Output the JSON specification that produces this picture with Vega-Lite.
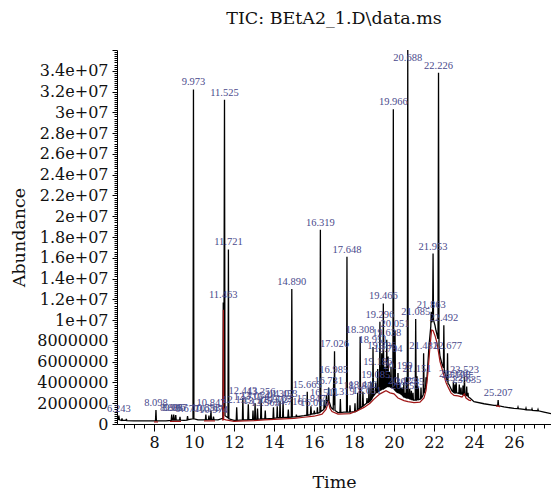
{
"$schema": "https://vega.github.io/schema/vega-lite/v6.json",
"width": 434, "height": 374,
"autosize": {"type": "none"},
"padding": {"left": 117, "top": 50, "right": 0, "bottom": 72},
"background": "white",
"title": {"text": "TIC: BEtA2_1.D\\data.ms", "font": "DejaVu Serif", "fontSize": 17.5, "fontWeight": "normal", "color": "#111", "offset": 15, "anchor": "middle"},
"config": {"view": {"stroke": null}, "font": "DejaVu Serif"},
"datasets": {
"tic": [
{"t":6.15,"v":500000},{"t":6.22,"v":450000},{"t":6.243,"v":800000},{"t":6.27,"v":400000},{"t":6.38,"v":350000},{"t":6.4,"v":550000},{"t":6.42,"v":350000},{"t":6.6,"v":350000},{"t":6.62,"v":500000},{"t":6.64,"v":330000},{"t":7.0,"v":300000},{"t":7.5,"v":300000},{"t":8.0,"v":300000},{"t":8.075,"v":300000},{"t":8.098,"v":1350000},{"t":8.12,"v":300000},{"t":8.5,"v":300000},{"t":8.6,"v":300000},
{"t":8.86,"v":350000},{"t":8.885,"v":900000},{"t":8.91,"v":380000},{"t":8.96,"v":380000},{"t":8.986,"v":900000},{"t":9.01,"v":380000},{"t":9.06,"v":380000},{"t":9.087,"v":850000},{"t":9.11,"v":380000},{"t":9.28,"v":380000},{"t":9.3,"v":700000},{"t":9.32,"v":380000},{"t":9.5,"v":350000},{"t":9.65,"v":380000},{"t":9.677,"v":750000},{"t":9.7,"v":420000},
{"t":9.95,"v":500000},{"t":9.973,"v":32200000},{"t":9.995,"v":500000},{"t":10.2,"v":400000},{"t":10.57,"v":400000},{"t":10.593,"v":900000},{"t":10.615,"v":400000},{"t":10.725,"v":420000},{"t":10.747,"v":800000},{"t":10.77,"v":420000},{"t":10.825,"v":420000},{"t":10.847,"v":1300000},{"t":10.87,"v":420000},{"t":10.95,"v":420000},{"t":10.974,"v":700000},{"t":11.0,"v":420000},{"t":11.2,"v":400000},
{"t":11.44,"v":550000},{"t":11.463,"v":11700000},{"t":11.49,"v":1500000},{"t":11.525,"v":31200000},{"t":11.55,"v":800000},{"t":11.7,"v":600000},{"t":11.721,"v":16800000},{"t":11.745,"v":500000},{"t":12.0,"v":350000},
{"t":12.11,"v":350000},{"t":12.135,"v":1600000},{"t":12.16,"v":350000},{"t":12.42,"v":400000},{"t":12.443,"v":2500000},{"t":12.465,"v":400000},{"t":12.69,"v":400000},{"t":12.715,"v":1900000},{"t":12.74,"v":420000},{"t":12.93,"v":420000},{"t":12.95,"v":1300000},{"t":12.97,"v":430000},{"t":13.03,"v":430000},{"t":13.054,"v":2000000},{"t":13.08,"v":450000},{"t":13.15,"v":450000},{"t":13.175,"v":1500000},{"t":13.2,"v":450000},{"t":13.33,"v":480000},{"t":13.356,"v":2400000},{"t":13.38,"v":480000},{"t":13.54,"v":500000},{"t":13.563,"v":1300000},{"t":13.585,"v":500000},{"t":13.95,"v":550000},{"t":13.972,"v":1600000},{"t":13.995,"v":550000},{"t":14.14,"v":580000},{"t":14.162,"v":1700000},{"t":14.185,"v":600000},{"t":14.28,"v":600000},{"t":14.302,"v":2200000},{"t":14.325,"v":600000},{"t":14.43,"v":620000},{"t":14.453,"v":2200000},{"t":14.475,"v":620000},{"t":14.69,"v":650000},{"t":14.716,"v":1400000},{"t":14.74,"v":650000},{"t":14.865,"v":660000},{"t":14.89,"v":13000000},{"t":14.915,"v":660000},{"t":15.1,"v":700000},{"t":15.12,"v":900000},{"t":15.14,"v":700000},{"t":15.5,"v":800000},
{"t":15.64,"v":850000},{"t":15.663,"v":3100000},{"t":15.685,"v":850000},{"t":15.82,"v":900000},{"t":15.847,"v":1700000},{"t":15.87,"v":950000},{"t":15.99,"v":1000000},{"t":16.016,"v":1300000},{"t":16.04,"v":1000000},{"t":16.15,"v":1050000},{"t":16.17,"v":1600000},{"t":16.19,"v":1050000},{"t":16.295,"v":1100000},{"t":16.319,"v":18700000},{"t":16.345,"v":1200000},{"t":16.49,"v":1400000},{"t":16.511,"v":2300000},{"t":16.535,"v":1500000},{"t":16.6,"v":1800000},{"t":16.62,"v":2800000},{"t":16.64,"v":2000000},{"t":16.71,"v":2300000},{"t":16.731,"v":3500000},{"t":16.755,"v":2200000},{"t":16.85,"v":1600000},{"t":16.96,"v":1400000},{"t":16.985,"v":4500000},{"t":17.005,"v":1800000},{"t":17.026,"v":7000000},{"t":17.05,"v":1300000},{"t":17.2,"v":1100000},{"t":17.295,"v":1100000},{"t":17.319,"v":2400000},{"t":17.34,"v":1100000},{"t":17.5,"v":1150000},{"t":17.625,"v":1150000},{"t":17.648,"v":16100000},{"t":17.67,"v":1150000},{"t":17.78,"v":1150000},{"t":17.8,"v":1800000},{"t":17.82,"v":1150000},{"t":18.03,"v":1200000},{"t":18.05,"v":2000000},{"t":18.07,"v":1200000},{"t":18.16,"v":1300000},{"t":18.185,"v":3000000},{"t":18.205,"v":1400000},{"t":18.285,"v":1500000},{"t":18.308,"v":8400000},{"t":18.33,"v":1550000},{"t":18.42,"v":1700000},{"t":18.446,"v":3100000},{"t":18.47,"v":1750000},{"t":18.63,"v":2000000},{"t":18.651,"v":2500000},{"t":18.675,"v":2050000},{"t":18.73,"v":2100000},{"t":18.75,"v":3500000},{"t":18.77,"v":2150000},{"t":18.83,"v":2250000},{"t":18.85,"v":4000000},{"t":18.87,"v":2300000},{"t":18.93,"v":2600000},{"t":18.951,"v":7400000},{"t":18.975,"v":2700000},{"t":19.06,"v":2900000},{"t":19.085,"v":4000000},{"t":19.11,"v":3000000},{"t":19.165,"v":3050000},{"t":19.186,"v":5300000},{"t":19.21,"v":3100000},{"t":19.275,"v":3200000},{"t":19.296,"v":9850000},{"t":19.32,"v":3250000},{"t":19.365,"v":3300000},{"t":19.386,"v":6800000},{"t":19.41,"v":3350000},{"t":19.445,"v":3400000},{"t":19.466,"v":11600000},{"t":19.49,"v":3400000},{"t":19.525,"v":3450000},{"t":19.55,"v":5500000},{"t":19.575,"v":3500000},{"t":19.615,"v":3550000},{"t":19.638,"v":8100000},{"t":19.66,"v":3600000},{"t":19.68,"v":3600000},{"t":19.704,"v":6500000},{"t":19.725,"v":3600000},{"t":19.75,"v":3600000},{"t":19.77,"v":5000000},{"t":19.79,"v":3600000},{"t":19.83,"v":3550000},{"t":19.85,"v":5500000},{"t":19.87,"v":3550000},{"t":19.945,"v":3500000},{"t":19.966,"v":30300000},{"t":19.99,"v":3400000},{"t":20.03,"v":3300000},{"t":20.051,"v":9000000},{"t":20.075,"v":3200000},{"t":20.1,"v":3150000},{"t":20.12,"v":4000000},{"t":20.14,"v":3100000},{"t":20.175,"v":3050000},{"t":20.199,"v":4900000},{"t":20.22,"v":3000000},{"t":20.25,"v":3000000},{"t":20.27,"v":4000000},{"t":20.29,"v":2950000},{"t":20.33,"v":2900000},{"t":20.35,"v":3500000},{"t":20.37,"v":2850000},{"t":20.4,"v":2800000},{"t":20.423,"v":3500000},{"t":20.445,"v":2700000},{"t":20.47,"v":2650000},{"t":20.49,"v":4000000},{"t":20.51,"v":2600000},{"t":20.535,"v":2600000},{"t":20.555,"v":3000000},{"t":20.575,"v":2550000},{"t":20.6,"v":2550000},{"t":20.62,"v":4500000},{"t":20.64,"v":2500000},{"t":20.665,"v":2500000},{"t":20.688,"v":36000000},{"t":20.71,"v":2500000},{"t":20.76,"v":2450000},{"t":20.785,"v":3400000},{"t":20.81,"v":2400000},{"t":20.85,"v":2400000},{"t":20.87,"v":3200000},{"t":20.89,"v":2350000},{"t":20.93,"v":2350000},{"t":20.95,"v":3000000},{"t":20.97,"v":2300000},{"t":21.06,"v":2300000},{"t":21.085,"v":10100000},{"t":21.11,"v":2300000},{"t":21.13,"v":2300000},{"t":21.151,"v":4600000},{"t":21.175,"v":2350000},{"t":21.2,"v":2350000},{"t":21.22,"v":3500000},{"t":21.24,"v":2350000},{"t":21.33,"v":2400000},{"t":21.35,"v":3500000},{"t":21.37,"v":2450000},{"t":21.46,"v":2800000},{"t":21.481,"v":6800000},{"t":21.505,"v":2950000},{"t":21.58,"v":3500000},{"t":21.6,"v":4500000},{"t":21.62,"v":3800000},{"t":21.65,"v":4500000},{"t":21.75,"v":7500000},{"t":21.84,"v":9400000},{"t":21.863,"v":10800000},{"t":21.885,"v":9800000},{"t":21.93,"v":10000000},{"t":21.953,"v":16400000},{"t":21.975,"v":10000000},{"t":22.05,"v":9500000},{"t":22.1,"v":9000000},{"t":22.2,"v":8200000},{"t":22.226,"v":33800000},{"t":22.25,"v":7500000},{"t":22.3,"v":6500000},{"t":22.4,"v":5800000},{"t":22.47,"v":5400000},{"t":22.492,"v":9500000},{"t":22.515,"v":5100000},{"t":22.6,"v":4500000},{"t":22.655,"v":4100000},{"t":22.677,"v":6800000},{"t":22.7,"v":3900000},{"t":22.75,"v":3800000},{"t":22.9,"v":3200000},{"t":22.95,"v":3100000},{"t":22.97,"v":4100000},{"t":22.99,"v":3050000},{"t":23.03,"v":3000000},{"t":23.05,"v":3800000},{"t":23.07,"v":3000000},{"t":23.085,"v":3000000},{"t":23.108,"v":4000000},{"t":23.13,"v":3000000},{"t":23.245,"v":2950000},{"t":23.265,"v":3800000},{"t":23.285,"v":2950000},{"t":23.33,"v":2900000},{"t":23.35,"v":3500000},{"t":23.37,"v":2900000},{"t":23.43,"v":2850000},{"t":23.45,"v":3700000},{"t":23.47,"v":2850000},{"t":23.5,"v":2800000},{"t":23.523,"v":4550000},{"t":23.545,"v":2800000},{"t":23.61,"v":2750000},{"t":23.635,"v":3600000},{"t":23.655,"v":2700000},{"t":23.68,"v":2700000},{"t":23.7,"v":3000000},{"t":23.72,"v":2600000},{"t":23.8,"v":2500000},{"t":24.0,"v":2150000},{"t":24.5,"v":1950000},{"t":25.0,"v":1800000},{"t":25.185,"v":1780000},{"t":25.207,"v":2300000},{"t":25.23,"v":1750000},{"t":25.5,"v":1650000},{"t":26.0,"v":1500000},{"t":26.18,"v":1480000},{"t":26.2,"v":1620000},{"t":26.22,"v":1470000},{"t":26.5,"v":1400000},{"t":26.58,"v":1380000},{"t":26.6,"v":1520000},{"t":26.62,"v":1370000},{"t":26.88,"v":1330000},{"t":26.9,"v":1450000},{"t":26.92,"v":1320000},{"t":27.18,"v":1280000},{"t":27.2,"v":1400000},{"t":27.22,"v":1270000},{"t":27.5,"v":1150000},{"t":27.85,"v":1000000}
],
"base": [
{"seg":"a","t":8.0,"v":200000},{"seg":"a","t":8.2,"v":200000},
{"seg":"b","t":8.8,"v":250000},{"seg":"b","t":9.35,"v":250000},
{"seg":"c","t":10.5,"v":300000},{"seg":"c","t":11.05,"v":300000},
{"seg":"d","t":11.4,"v":400000},{"seg":"d","t":11.455,"v":400000},{"seg":"d","t":11.47,"v":11000000},{"seg":"d","t":11.485,"v":450000},{"seg":"d","t":11.6,"v":400000},{"seg":"d","t":12.0,"v":250000},{"seg":"d","t":12.5,"v":300000},{"seg":"d","t":13.0,"v":330000},{"seg":"d","t":13.5,"v":400000},{"seg":"d","t":14.0,"v":450000},{"seg":"d","t":14.5,"v":500000},{"seg":"d","t":15.0,"v":550000},{"seg":"d","t":15.5,"v":650000},{"seg":"d","t":16.0,"v":750000},{"seg":"d","t":16.4,"v":950000},{"seg":"d","t":16.6,"v":1400000},{"seg":"d","t":16.72,"v":2100000},{"seg":"d","t":16.8,"v":1500000},{"seg":"d","t":16.9,"v":1200000},{"seg":"d","t":17.2,"v":950000},{"seg":"d","t":17.8,"v":1000000},{"seg":"d","t":18.2,"v":1300000},{"seg":"d","t":18.5,"v":1600000},{"seg":"d","t":18.8,"v":2000000},{"seg":"d","t":19.0,"v":2400000},{"seg":"d","t":19.3,"v":2900000},{"seg":"d","t":19.6,"v":3200000},{"seg":"d","t":19.8,"v":3000000},{"seg":"d","t":20.0,"v":2900000},{"seg":"d","t":20.2,"v":2500000},{"seg":"d","t":20.5,"v":2250000},{"seg":"d","t":20.7,"v":2150000},{"seg":"d","t":21.0,"v":2050000},{"seg":"d","t":21.3,"v":2100000},{"seg":"d","t":21.5,"v":2500000},{"seg":"d","t":21.6,"v":3200000},{"seg":"d","t":21.7,"v":5000000},{"seg":"d","t":21.8,"v":7500000},{"seg":"d","t":21.88,"v":9050000},{"seg":"d","t":21.95,"v":9000000},{"seg":"d","t":22.05,"v":8500000},{"seg":"d","t":22.15,"v":7800000},{"seg":"d","t":22.3,"v":6000000},{"seg":"d","t":22.45,"v":5000000},{"seg":"d","t":22.6,"v":4000000},{"seg":"d","t":22.72,"v":3500000},{"seg":"d","t":22.85,"v":3000000},{"seg":"d","t":23.0,"v":2750000},{"seg":"d","t":23.2,"v":2700000},{"seg":"d","t":23.4,"v":2600000},{"seg":"d","t":23.52,"v":2900000},{"seg":"d","t":23.6,"v":2500000},{"seg":"d","t":23.75,"v":2300000},{"seg":"d","t":23.85,"v":2250000},
{"seg":"e","t":25.1,"v":1720000},{"seg":"e","t":25.207,"v":1750000},{"seg":"e","t":25.3,"v":1650000}
],
"labels": [
{"t":6.243,"v":800000,"label":"6.243"},{"t":8.098,"v":1350000,"label":"8.098"},{"t":8.885,"v":900000,"label":"8.885"},{"t":8.986,"v":900000,"label":"8.986"},{"t":9.087,"v":850000,"label":"9.087"},{"t":9.677,"v":750000,"label":"9.677"},{"t":9.973,"v":32200000,"label":"9.973"},{"t":10.593,"v":900000,"label":"10.593"},{"t":10.747,"v":800000,"label":"10.747"},{"t":10.847,"v":1300000,"label":"10.847"},{"t":10.974,"v":700000,"label":"10.974"},{"t":11.463,"v":11700000,"label":"11.463"},{"t":11.525,"v":31200000,"label":"11.525"},{"t":11.721,"v":16800000,"label":"11.721"},{"t":12.135,"v":1600000,"label":"12.135"},{"t":12.443,"v":2500000,"label":"12.443"},{"t":12.715,"v":1900000,"label":"12.715"},{"t":13.054,"v":2000000,"label":"13.054"},{"t":13.175,"v":1500000,"label":"13.175"},{"t":13.356,"v":2400000,"label":"13.356"},{"t":13.563,"v":1300000,"label":"13.563"},{"t":13.972,"v":1600000,"label":"13.972"},{"t":14.162,"v":1700000,"label":"14.162"},{"t":14.302,"v":2200000,"label":"14.302"},{"t":14.453,"v":2200000,"label":"14.453"},{"t":14.716,"v":1400000,"label":"14.716"},{"t":14.89,"v":13000000,"label":"14.890"},{"t":15.663,"v":3100000,"label":"15.663"},{"t":15.847,"v":1700000,"label":"15.847"},{"t":16.016,"v":1300000,"label":"16.016"},{"t":16.319,"v":18700000,"label":"16.319"},{"t":16.511,"v":2300000,"label":"16.511"},{"t":16.731,"v":3500000,"label":"16.731"},{"t":16.985,"v":4500000,"label":"16.985"},{"t":17.026,"v":7000000,"label":"17.026"},{"t":17.319,"v":2400000,"label":"17.319"},{"t":17.648,"v":16100000,"label":"17.648"},{"t":18.185,"v":3000000,"label":"18.185"},{"t":18.308,"v":8400000,"label":"18.308"},{"t":18.446,"v":3100000,"label":"18.446"},{"t":18.651,"v":2500000,"label":"18.651"},{"t":18.951,"v":7400000,"label":"18.951"},{"t":19.085,"v":4000000,"label":"19.085"},{"t":19.186,"v":5300000,"label":"19.186"},{"t":19.296,"v":9850000,"label":"19.296"},{"t":19.386,"v":6800000,"label":"19.386"},{"t":19.466,"v":11600000,"label":"19.466"},{"t":19.638,"v":8100000,"label":"19.638"},{"t":19.704,"v":6500000,"label":"19.704"},{"t":19.966,"v":30300000,"label":"19.966"},{"t":20.051,"v":9000000,"label":"20.051"},{"t":20.199,"v":4900000,"label":"20.199"},{"t":20.423,"v":3500000,"label":"20.423"},{"t":20.555,"v":3000000,"label":"20.555"},{"t":20.688,"v":34600000,"label":"20.688"},{"t":20.785,"v":3400000,"label":"20.785"},{"t":21.085,"v":10100000,"label":"21.085"},{"t":21.151,"v":4600000,"label":"21.151"},{"t":21.481,"v":6800000,"label":"21.481"},{"t":21.863,"v":10800000,"label":"21.863"},{"t":21.953,"v":16400000,"label":"21.953"},{"t":22.226,"v":33800000,"label":"22.226"},{"t":22.492,"v":9500000,"label":"22.492"},{"t":22.677,"v":6800000,"label":"22.677"},{"t":22.97,"v":4100000,"label":"22.970"},{"t":23.108,"v":4000000,"label":"23.108"},{"t":23.265,"v":3800000,"label":"23.265"},{"t":23.523,"v":4550000,"label":"23.523"},{"t":23.635,"v":3600000,"label":"23.635"},{"t":25.207,"v":2300000,"label":"25.207"}
]
},
"layer": [
{
"data": {"name": "tic"},
"mark": {"type": "line", "color": "#000000", "strokeWidth": 1.3, "clip": true},
"encoding": {
"x": {"field": "t", "type": "quantitative", "scale": {"domain": [6.15, 27.85], "nice": false, "zero": false},
"axis": {"title": "Time", "titleFont": "DejaVu Serif", "titleFontSize": 17.5, "titleFontWeight": "normal", "titleColor": "#111", "titlePadding": 23,
"labelFont": "DejaVu Serif", "labelFontSize": 16, "labelColor": "#111", "labelPadding": 3,
"tickCount": 43,
"labelExpr": "abs(datum.value % 2) < 0.001 ? format(datum.value, 'd') : ''",
"tickSize": {"condition": {"test": "abs(datum.value % 2) < 0.001", "value": 7}, "value": 4},
"tickColor": "#000", "tickWidth": 1, "domainColor": "#000", "domainWidth": 1, "grid": false}},
"y": {"field": "v", "type": "quantitative", "scale": {"domain": [0, 36000000], "nice": false, "zero": true},
"axis": {"title": "Abundance", "titleFont": "DejaVu Serif", "titleFontSize": 17.5, "titleFontWeight": "normal", "titleColor": "#111", "titlePadding": 8,
"labelFont": "DejaVu Serif", "labelFontSize": 16, "labelColor": "#111", "labelPadding": 4, "labelOverlap": false, "labelFlush": false, "labelBound": false,
"tickCount": 144,
"labelExpr": "abs(datum.value % 2000000) < 1 && datum.value < 35000000 ? (datum.value < 10000000 ? format(datum.value, 'd') : format(datum.value / 10000000, '~g') + 'e+07') : ''",
"tickSize": {"condition": {"test": "abs(datum.value % 2000000) < 1", "value": 5}, "value": 3},
"tickColor": "#000", "tickWidth": 1, "domainColor": "#000", "domainWidth": 1, "grid": false}}
}
},
{
"data": {"name": "base"},
"mark": {"type": "line", "color": "#a01616", "strokeWidth": 1.2},
"encoding": {
"x": {"field": "t", "type": "quantitative"},
"y": {"field": "v", "type": "quantitative"},
"detail": {"field": "seg", "type": "nominal"}
}
},
{
"data": {"name": "labels"},
"mark": {"type": "text", "font": "Liberation Serif", "fontSize": 10.5, "color": "#4a4a8c", "baseline": "bottom", "align": "center", "dy": -2},
"encoding": {
"x": {"field": "t", "type": "quantitative"},
"y": {"field": "v", "type": "quantitative"},
"text": {"field": "label", "type": "nominal"}
}
}
]
}
